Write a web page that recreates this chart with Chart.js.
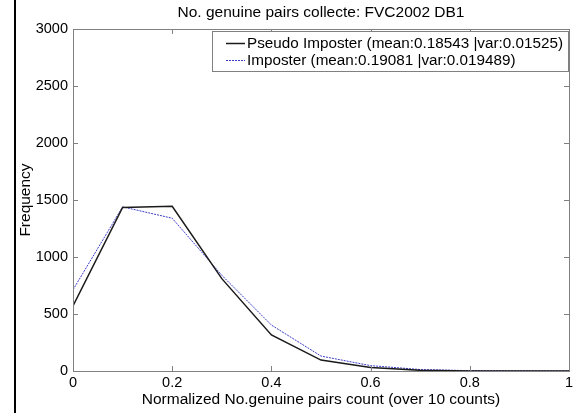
<!DOCTYPE html>
<html>
<head>
<meta charset="utf-8">
<script src="https://cdn.jsdelivr.net/npm/chart.js@4.4.0/dist/chart.umd.min.js"></script>
<style>
  html, body { margin: 0; padding: 0; background: #fff; }
  #wrap { width: 580px; height: 413px; }
</style>
</head>
<body>
<div id="wrap"><canvas id="c" width="580" height="413"></canvas></div>
<script>
// valeurs
const xValues = [0, 0.1, 0.2, 0.3, 0.4, 0.5, 0.6, 0.7, 0.8, 0.9, 1];
const pseudoImposter = [570, 1435, 1445, 810, 316, 96, 30, 6, 1, 0, 0];
const imposter = [712, 1440, 1340, 840, 403, 131, 47, 13, 3, 1, 0];
const seriesLabels = [
  'Pseudo Imposter (mean:0.18543 |var:0.01525)',
  'Imposter (mean:0.19081 |var:0.019489)'
];
const xTicks = [0, 0.2, 0.4, 0.6, 0.8, 1];
const yTicks = [0, 500, 1000, 1500, 2000, 2500, 3000];

const FONT = 'Liberation Sans, Arial, sans-serif';

// cadre + graduations intérieures façon MATLAB, titre, légende
const matlabAxes = {
  id: 'matlabAxes',
  afterDraw(chart) {
    const { ctx, chartArea: a, scales } = chart;
    ctx.save();
    // trait vertical à gauche de l'image
    ctx.strokeStyle = '#000';
    ctx.lineWidth = 2;
    ctx.beginPath();
    ctx.moveTo(15, 0);
    ctx.lineTo(15, 413);
    ctx.stroke();

    ctx.strokeStyle = '#808080';
    ctx.lineWidth = 1;
    ctx.strokeRect(a.left + 0.5, a.top + 0.5, a.right - a.left, a.bottom - a.top);
    ctx.beginPath();
    xTicks.forEach(v => {
      const px = Math.round(scales.x.getPixelForValue(v)) + 0.5;
      ctx.moveTo(px, a.bottom); ctx.lineTo(px, a.bottom - 5);
      ctx.moveTo(px, a.top); ctx.lineTo(px, a.top + 5);
    });
    yTicks.forEach(v => {
      const py = Math.round(scales.y.getPixelForValue(v)) + 0.5;
      ctx.moveTo(a.left, py); ctx.lineTo(a.left + 5, py);
      ctx.moveTo(a.right, py); ctx.lineTo(a.right - 5, py);
    });
    ctx.stroke();

    // titre
    ctx.fillStyle = '#000';
    ctx.font = '15.5px ' + FONT;
    ctx.textAlign = 'center';
    ctx.textBaseline = 'middle';
    ctx.fillText('No. genuine pairs collecte: FVC2002 DB1', (a.left + a.right) / 2, 12.5);

    // légende (texte un peu étiré en largeur comme sur l'original)
    const lx = 212, ly = 31, lw = 356, lh = 40;
    ctx.fillStyle = '#fff';
    ctx.fillRect(lx, ly, lw, lh);
    ctx.strokeStyle = '#808080';
    ctx.strokeRect(lx + 0.5, ly + 0.5, lw, lh);
    ctx.font = '15.5px ' + FONT;
    ctx.textAlign = 'left';
    const sx = 316 / ctx.measureText(seriesLabels[0]).width;
    chart.data.datasets.forEach((ds, i) => {
      const yy = ly + 12.5 + i * 17;
      ctx.strokeStyle = ds.borderColor;
      ctx.lineWidth = ds.borderWidth;
      ctx.setLineDash(ds.borderDash || []);
      ctx.beginPath();
      ctx.moveTo(lx + 14, yy);
      ctx.lineTo(lx + 33, yy);
      ctx.stroke();
      ctx.setLineDash([]);
      ctx.fillStyle = '#000';
      ctx.save();
      ctx.translate(lx + 35, yy + 0.5);
      ctx.scale(sx, 1);
      ctx.fillText(ds.label, 0, 0);
      ctx.restore();
    });
    ctx.restore();
  }
};

new Chart(document.getElementById('c'), {
  type: 'line',
  data: {
    datasets: [
      {
        label: seriesLabels[0],
        data: xValues.map((x, i) => ({ x, y: pseudoImposter[i] })),
        borderColor: '#1a1a1a',
        borderWidth: 1.5,
        pointRadius: 0,
        tension: 0
      },
      {
        label: seriesLabels[1],
        data: xValues.map((x, i) => ({ x, y: imposter[i] })),
        borderColor: '#3c3cc8',
        borderWidth: 1,
        borderDash: [2, 1],
        pointRadius: 0,
        tension: 0
      }
    ]
  },
  options: {
    responsive: false,
    animation: false,
    layout: { padding: { top: 29, left: 0, right: 11, bottom: 0 } },
    plugins: {
      legend: { display: false },
      title: { display: false },
      tooltip: { enabled: false }
    },
    scales: {
      x: {
        type: 'linear',
        min: 0,
        max: 1,
        afterFit: s => { s.height = 42; },
        afterBuildTicks: s => { s.ticks = xTicks.map(v => ({ value: v })); },
        grid: { display: false, drawTicks: false },
        border: { display: false },
        ticks: {
          padding: 3,
          color: '#000',
          font: { family: FONT, size: 14.5 },
          callback: v => String(v)
        },
        title: {
          display: true,
          text: 'Normalized No.genuine pairs count (over 10 counts)',
          color: '#000',
          font: { family: FONT, size: 15.5 },
          padding: { top: 0, bottom: 4 }
        }
      },
      y: {
        min: 0,
        max: 3000,
        afterFit: s => { s.width = 73; },
        afterBuildTicks: s => { s.ticks = yTicks.map(v => ({ value: v })); },
        grid: { display: false, drawTicks: false },
        border: { display: false },
        ticks: {
          padding: 5,
          color: '#000',
          font: { family: FONT, size: 14.5 },
          callback: v => String(v)
        },
        title: {
          display: true,
          text: 'Frequency',
          color: '#000',
          font: { family: FONT, size: 15.5 },
          padding: { top: 16, bottom: 0 }
        }
      }
    }
  },
  plugins: [matlabAxes]
});
</script>
</body>
</html>
